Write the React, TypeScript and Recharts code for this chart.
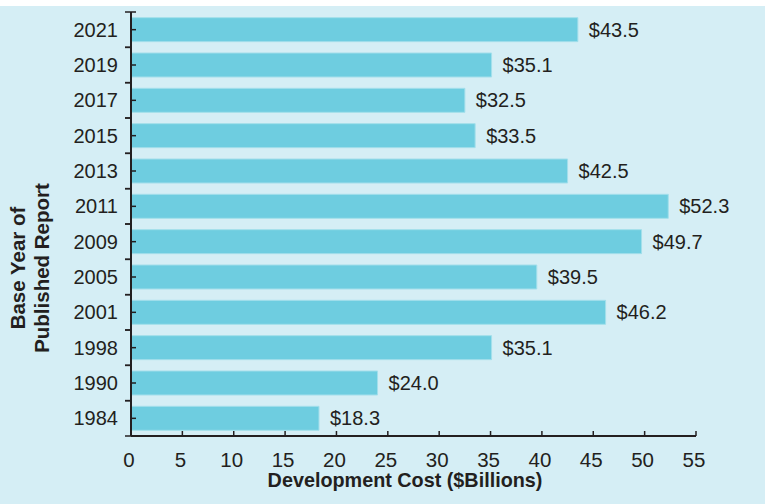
import { Bar, BarChart, LabelList, XAxis, YAxis } from "recharts";

const years = ["2021", "2019", "2017", "2015", "2013", "2011", "2009", "2005", "2001", "1998", "1990", "1984"];
const costs = [43.5, 35.1, 32.5, 33.5, 42.5, 52.3, 49.7, 39.5, 46.2, 35.1, 24.0, 18.3];
const xTicks = [0, 5, 10, 15, 20, 25, 30, 35, 40, 45, 50, 55];

const data = years.map((year, i) => ({ year, cost: costs[i] }));

const W = 765;
const H = 498;
const MARGIN = { top: 6, right: 69, bottom: 0, left: 0 };
const Y_AXIS_W = 131;
const X_AXIS_H = 68;
const PLOT_H = H - MARGIN.top - X_AXIS_H;
const HALF_BAND = PLOT_H / years.length / 2;

const FONT = "'Liberation Sans', Arial, Helvetica, sans-serif";
const INK = "#231f20";
const BG = "#d5eef5";
const BAR = "#6ecde0";

function XTick({ x, y, payload }: any) {
  return (
    <g>
      <line x1={x} x2={x} y1={y} y2={y - 5} stroke={INK} strokeWidth={1.5} />
      <text x={x - 2} y={y + 31} textAnchor="middle" fontSize={20.5} fill={INK} fontFamily={FONT}>
        {payload.value}
      </text>
    </g>
  );
}

function YTick({ x, y, payload, index }: any) {
  return (
    <g>
      <line x1={x} x2={x + 5} y1={y} y2={y} stroke={INK} strokeWidth={1.5} />
      <line x1={x - 6} x2={index === 0 ? x + 5 : x} y1={y - HALF_BAND} y2={y - HALF_BAND} stroke={INK} strokeWidth={1.5} />
      <line x1={x - 6} x2={x} y1={y + HALF_BAND} y2={y + HALF_BAND} stroke={INK} strokeWidth={1.5} />
      <text x={x - 13} y={y} dy="0.35em" textAnchor="end" fontSize={20} fill={INK} fontFamily={FONT}>
        {payload.value}
      </text>
    </g>
  );
}

export default function App() {
  return (
    <div style={{ position: "fixed", left: 0, top: 0, width: W, height: 504, background: "#fff" }}>
      <div style={{ position: "absolute", left: 0, top: 6, width: W, height: H, background: BG }}>
        <BarChart
          width={W}
          height={H}
          data={data}
          layout="vertical"
          margin={MARGIN}
          barCategoryGap="16%"
        >
          <XAxis
            type="number"
            domain={[0, 55]}
            ticks={xTicks}
            interval={0}
            height={X_AXIS_H}
            tickSize={0}
            tickMargin={0}
            tick={<XTick />}
            axisLine={{ stroke: INK, strokeWidth: 2 }}
            tickLine={false}
          />
          <YAxis
            type="category"
            dataKey="year"
            width={Y_AXIS_W}
            interval={0}
            tickSize={0}
            tickMargin={0}
            tick={<YTick />}
            axisLine={{ stroke: INK, strokeWidth: 2 }}
            tickLine={false}
          />
          <Bar dataKey="cost" fill={BAR} stroke="#a3dfeb" strokeWidth={1} isAnimationActive={false}>
            <LabelList
              dataKey="cost"
              position="right"
              offset={11}
              formatter={(v: any) => `$${Number(v).toFixed(1)}`}
              style={{ fontSize: 20, fill: INK, fontFamily: FONT }}
            />
          </Bar>
        </BarChart>
        <svg
          width={W}
          height={H}
          style={{ position: "absolute", left: 0, top: 0, pointerEvents: "none" }}
        >
          <text
            x={405}
            y={481}
            textAnchor="middle"
            fontSize={19.8}
            fontWeight="bold"
            fill={INK}
            fontFamily={FONT}
          >
            Development Cost ($Billions)
          </text>
          <g transform="translate(0, 262) rotate(-90)">
            <text x={0} y={25} textAnchor="middle" fontSize={20.5} fontWeight="bold" fill={INK} fontFamily={FONT}>
              Base Year of
            </text>
            <text x={0} y={49} textAnchor="middle" fontSize={20.5} fontWeight="bold" fill={INK} fontFamily={FONT}>
              Published Report
            </text>
          </g>
        </svg>
      </div>
    </div>
  );
}
